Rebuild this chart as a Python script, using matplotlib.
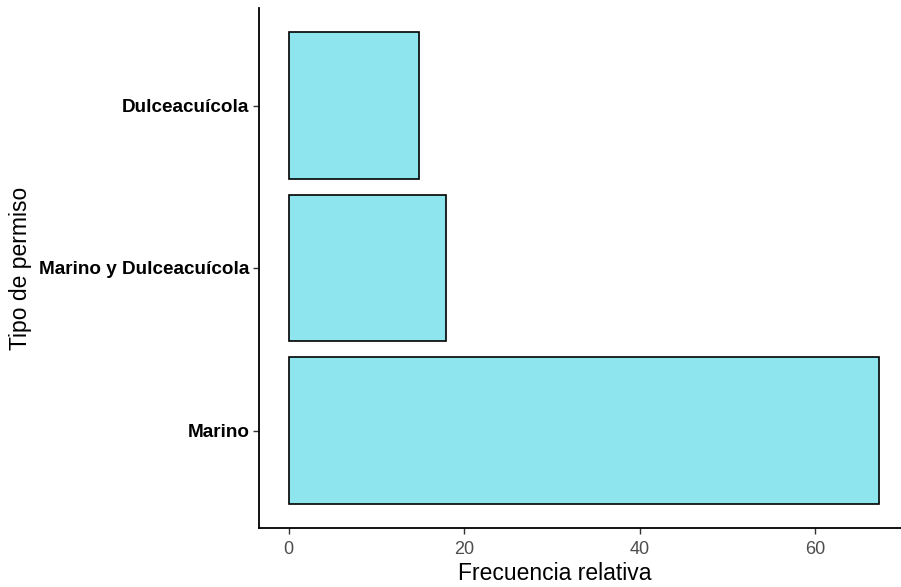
import matplotlib
matplotlib.use("Agg")
import matplotlib.pyplot as plt

categories = ["Marino", "Marino y Dulceacuícola", "Dulceacuícola"]
values = [67.2, 17.9, 14.9]
xticks = [0, 20, 40, 60]

plt.rcParams['font.family'] = ['Liberation Sans', 'DejaVu Sans']

W, H = 901, 587
fig = plt.figure(figsize=(W/100, H/100), dpi=100)
left, right, top, bottom = 259, 908, 8, 528
ax = fig.add_axes([left/W, 1-bottom/H, (right-left)/W, (bottom-top)/H])

pos = list(range(1, len(categories)+1))
ax.barh(pos, values, height=0.9, color="#8EE5EE", edgecolor="black", linewidth=1.2)
ax.set_yticks(pos)
ax.set_yticklabels(categories, fontsize=13.6, fontweight="bold", color="black")
ax.set_ylim(0.4, len(categories)+0.6)
xmax = max(values)
ax.set_xlim(-0.05*xmax, 1.05*xmax)
ax.set_xticks(xticks)
ax.set_xticklabels([str(t) for t in xticks], fontsize=13, color="#4D4D4D")

for s in ["top", "right"]:
    ax.spines[s].set_visible(False)
for s in ["left", "bottom"]:
    ax.spines[s].set_linewidth(1.3)
    ax.spines[s].set_color("black")
ax.tick_params(axis="both", length=4, width=1, color="#333333", pad=3)
ax.tick_params(axis="x", pad=5)

fig.text(555/W, 1-573/H, "Frecuencia relativa", fontsize=16.5, ha="center", va="center")
fig.text(21/W, 1-268/H, "Tipo de permiso", fontsize=16.5, ha="center", va="center", rotation=90)

fig.savefig("out.png", dpi=100, facecolor="white")
